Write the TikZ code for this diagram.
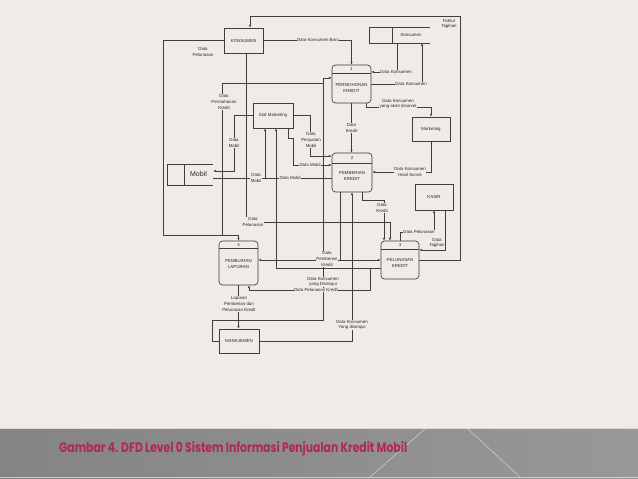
\documentclass[tikz,border=0pt]{standalone}
\usepackage{fontspec}
\setmainfont{Liberation Sans}
\newfontfamily\judulfont{Poppins}
\usetikzlibrary{arrows.meta}
\definecolor{latar}{RGB}{238,235,232}
\definecolor{garis}{RGB}{62,62,62}
\definecolor{tulisan}{RGB}{40,40,40}
\definecolor{pitakiri}{RGB}{132,132,132}
\definecolor{pitakanan}{RGB}{152,152,152}
\definecolor{judul}{RGB}{176,38,94}
\tikzset{
  kecil/.style={font=\fontsize{4.4}{5.6}\selectfont, text=tulisan, align=center, inner sep=0.4bp},
  entitas/.style={kecil, draw=garis, line width=0.65bp, minimum width=39bp, minimum height=25bp},
  proses/.style={draw=garis, line width=0.65bp, rounded corners=3.5bp, minimum width=39bp, minimum height=38bp, inner sep=0},
  simpan/.style={minimum width=60bp, minimum height=15bp, inner sep=0},
  alur/.style={draw=garis, line width=0.65bp, -{Latex[length=2.8bp,width=2.4bp]}},
  garisan/.style={draw=garis, line width=0.65bp},
  ket/.style={kecil, fill=latar},
}

\begin{document}
\begin{tikzpicture}[x=1bp, y=-1bp]
\useasboundingbox (0,0) rectangle (638,479);
\fill[latar] (0,0) rectangle (638,479);

\node[entitas] (konsumen) at (243.5,40.5) {KONSUMEN};
\node[entitas, minimum width=40bp] (stafmkt) at (273,115.5) {Staf Marketing};
\node[entitas, minimum width=38bp, minimum height=24bp] (marketing) at (431,129) {Marketing};
\node[entitas, minimum width=38bp, minimum height=26bp] (kasir) at (434,197) {KASIR};
\node[entitas, minimum width=40bp, minimum height=24bp] (manajemen) at (239,341) {MANAJEMEN};

\node[proses] (p1) at (351.5,84) {};
\draw[garisan] (p1.west |- 0,73) -- (p1.east |- 0,73);
\node[kecil] (p1no) at (351.5,69) {1};
\node[kecil] (p1teks) at (351.5,88) {PERMOHONAN\\KREDIT};

\node[proses, minimum width=40bp, minimum height=39bp] (p2) at (352,172.5) {};
\draw[garisan] (p2.west |- 0,163) -- (p2.east |- 0,163);
\node[kecil] (p2no) at (352,158) {2};
\node[kecil] (p2teks) at (352,176) {PEMBERIAN\\KREDIT};

\node[proses, minimum width=38bp] (p3) at (400,260) {};
\draw[garisan] (p3.west |- 0,249) -- (p3.east |- 0,249);
\node[kecil] (p3no) at (400,245) {3};
\node[kecil] (p3teks) at (400,263) {PELUNASAN\\KREDIT};

\node[proses, minimum height=44bp] (p4) at (238.5,263) {};
\draw[garisan] (p4.west |- 0,248) -- (p4.east |- 0,248);
\node[kecil] (p4no) at (238.5,244.5) {4};
\node[kecil] (p4teks) at (238.5,264) {PEMBUATAN\\LAPORAN};

\node[simpan] (dskonsumen) at (400,35.5) {};
\draw[garisan] (dskonsumen.north east) -- (dskonsumen.north west) -- (dskonsumen.south west) -- (dskonsumen.south east);
\draw[garisan] (392,28) -- (392,43);
\node[kecil] (dskonsumenteks) at (411,35.5) {Konsumen};

\node[simpan, minimum width=45bp, minimum height=20bp] (mobil) at (190.5,175) {};
\draw[garisan] (mobil.north east) -- (mobil.north west) -- (mobil.south west) -- (mobil.south east);
\draw[garisan] (184,165) -- (184,185);
\node[kecil, font=\fontsize{7}{8}\selectfont] (mobilteks) at (198.5,174.5) {Mobil};

\coordinate (simpangA) at (222,235);
\coordinate (simpangE) at (370,268);
\coordinate (simpangN) at (340,260);

\draw[alur] (p3.east) -- (460,260) -- (460,16) -- (250,16) -- (konsumen.north -| 250,0);
\draw[alur] (konsumen.east) -| (p1.north);
\draw[alur] (konsumen.west) -- (163,40.5) -- (163,235) -| (p4.north);
\draw[alur] (simpangA) -- (222,83) -- (323,83) -- (323,78) -- (p1.west |- 0,78);
\draw[garisan] (manajemen.west) -- (212,341) -- (212,320) -- (323,320) -- (323,83);
\draw[alur] (konsumen.south -| 246,0) -- (246,222) -- (390,222) -- (p3.north -| 390,0);
\draw[alur] (dskonsumen.south -| 397,0) |- (p1.east |- 0,72);
\draw[alur] (p1.east |- 0,84) -| (dskonsumen.south -| 422,0);
\draw[alur] (p1.south -| 366,0) -- (366,107) -| (marketing.north);
\draw[alur] (marketing.south) |- (p2.east |- 0,172);
\draw[alur] (p1.south) -- (p1.south |- p2.north);
\draw[alur] (stafmkt.west |- 0,115) -- (234,115) -- (234,171) -- (mobil.east |- 0,171);
\draw[alur] (mobil.east |- 0,178) -| (stafmkt.south -| 265,0);
\draw[garisan] (p2.west |- 0,178) -- (265,178);
\draw[alur] (stafmkt.south -| 288,0) -- (288,138) -- (293,138) -- (293,165) -- (p2.west |- 0,165);
\draw[alur] (stafmkt.east |- 0,115) -- (310,115) -- (310,156) -- (p2.west |- 0,156);
\draw[alur] (p2.south -| 362,0) -- (362,200) -- (384,200) -- (p3.north -| 384,0);
\draw[alur] (p3.north) -- (400,232) -| (kasir.south);
\draw[alur] (kasir.south -| 445,0) -- (445,250) -- (p3.east |- 0,250);
\draw[alur] (p2.south -| 340,0) -- (simpangN) -- (p4.east |- simpangN);
\draw[alur] (simpangN) -- (p3.west |- simpangN);
\draw[alur] (p3.west |- simpangE) -- (simpangE) -- (370,290) -| (p4.south -| 249,0);
\draw[alur] (simpangE) -- (276,268) -- (stafmkt.south -| 276,0);
\draw[alur] (manajemen.east) -| (p2.south);
\draw[alur] (p4.south) -- (p4.south |- manajemen.north);

\node[kecil] (lfaktur) at (449,24) {Faktur\\Tagihan};
\node[ket] (lkonsbaru) at (318,40.5) {Data Konsumen Baru};
\node[kecil] (lpelunasan1) at (203,52) {Data\\Pelunasan};
\node[ket] (lpermohonan) at (224,102) {Data\\Permohonan\\Kredit};
\node[ket] (lkons1) at (396,72) {Data Konsumen};
\node[ket] (lkons2) at (411,84) {Data Konsumen};
\node[ket] (lsurvei) at (398,104) {Data Konsumen\\yang akan disurvei};
\node[ket] (lmobil1) at (234,143) {Data\\Mobil};
\node[ket] (lpenjualan) at (311,140) {Data\\Penjualan\\Mobil};
\node[ket] (lmobil2) at (310,165) {Data Mobil};
\node[ket] (lkredit1) at (351.5,128) {Data\\Kredit};
\node[ket] (lhasil) at (410,172) {Data Konsumen\\Hasil Survei};
\node[ket] (lmobil3) at (256,178) {Data\\Mobil};
\node[ket] (lmobil4) at (290,178) {Data Mobil};
\node[ket] (lpelunasan2) at (253,222) {Data\\Pelunasan};
\node[ket] (lkredit2) at (382,208) {Data\\Kredit};
\node[ket] (lpelunasan3) at (419,232) {Data Pelunasan};
\node[kecil] (ltagihan) at (437,243) {Data\\Tagihan};
\node[ket] (lpemberian) at (327,259) {Data\\Pemberian\\Kredit};
\node[ket] (ldisetujui1) at (323,282) {Data Konsumen\\yang Disetujui};
\node[ket] (llunaskredit) at (316,290) {Data Pelunasan Kredit};
\node[ket] (llaporan) at (239,304) {Laporan\\Pemberian dan\\Pelunasan Kredit};
\node[ket] (ldisetujui2) at (352,325) {Data Konsumen\\Yang disetujui};

\shade[left color=pitakiri, right color=pitakanan] (0,428) rectangle (638,479);
\draw[white!70!gray, line width=1bp] (0,428.5) -- (638,428.5);
\draw[white!60!gray, line width=0.8bp] (0,477.5) -- (638,477.5);
\draw[white!55!pitakanan, line width=0.5bp] (425,429) -- (370,477);
\draw[white!55!pitakanan, line width=0.5bp] (468,429) -- (520,477);
\node[anchor=base west, inner sep=0] (judul) at (59,452.7) {\resizebox{348bp}{11bp}{\judulfont\bfseries\color{judul}Gambar 4. DFD Level 0 Sistem Informasi Penjualan Kredit Mobil}};
\end{tikzpicture}
\end{document}
